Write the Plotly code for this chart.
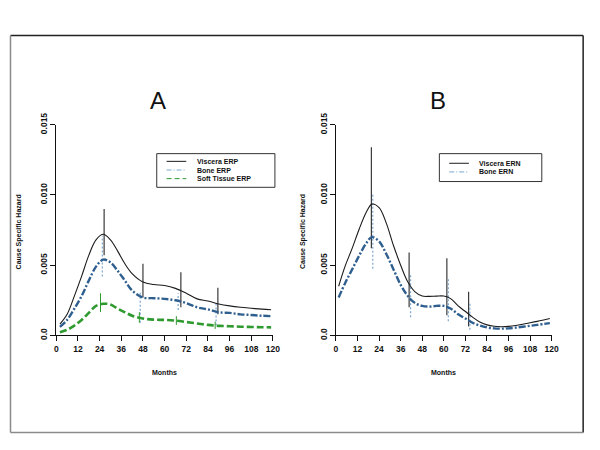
import plotly.graph_objects as go

# ---------------- data ----------------
months_A = [2, 6, 10, 14, 18, 22, 26, 30, 34, 38, 42, 48, 54, 60, 66, 72, 78, 84, 90, 96, 102, 108, 114, 119]
viscera_erp = [0.0008, 0.0015, 0.0028, 0.0042, 0.0057, 0.0068, 0.0072, 0.0068, 0.0060, 0.0051, 0.0044, 0.0038,
               0.00362, 0.00355, 0.00335, 0.0030, 0.0026, 0.00245, 0.00224, 0.0021, 0.0020, 0.00193, 0.00187, 0.00183]
bone_erp = [0.0006, 0.0011, 0.0019, 0.0028, 0.0039, 0.0049, 0.0054, 0.0052, 0.0046, 0.0039, 0.0032, 0.0027,
            0.00265, 0.0026, 0.0025, 0.0023, 0.0020, 0.00185, 0.00165, 0.0016, 0.0015, 0.00145, 0.0014, 0.00137]
soft_erp = [0.00022, 0.0004, 0.0007, 0.0011, 0.0016, 0.0021, 0.00225, 0.0022, 0.0019, 0.00165, 0.0014, 0.0012,
            0.00112, 0.0011, 0.00105, 0.00095, 0.00085, 0.00075, 0.00068, 0.00065, 0.00062, 0.0006, 0.00058, 0.00057]

# confidence bars panel A
viscera_erp_ci_x = [26.5, 48, 69, 89.5]
viscera_erp_ci_lo = [0.0057, 0.0027, 0.0020, 0.0015]
viscera_erp_ci_hi = [0.0090, 0.0051, 0.0045, 0.0034]
bone_erp_ci_x = [25.5, 46.5, 67.5, 88.5]
bone_erp_ci_lo = [0.0042, 0.0009, 0.0018, 0.0007]
bone_erp_ci_hi = [0.0071, 0.0031, 0.0030, 0.0023]
soft_erp_ci_x = [24.5, 46, 66.5, 88]
soft_erp_ci_lo = [0.00166, 0.0009, 0.00075, 0.00046]
soft_erp_ci_hi = [0.0030, 0.00166, 0.00137, 0.00098]

months_B = [1.5, 5, 9, 13, 17, 20, 24, 28, 32, 36, 40, 44, 48, 52, 56, 60, 64, 68, 72, 76, 80, 84, 88, 92, 96,
            100, 106, 112, 119]
viscera_ern = [0.0035, 0.0049, 0.0062, 0.0076, 0.0088, 0.00935, 0.0091, 0.0080, 0.0064, 0.0050, 0.0038, 0.0031,
               0.0028, 0.00278, 0.0028, 0.0028, 0.0026, 0.0021, 0.0017, 0.0013, 0.00095, 0.00075, 0.00065, 0.00062,
               0.00064, 0.0007, 0.00085, 0.0010, 0.0012]
bone_ern = [0.0027, 0.0037, 0.0047, 0.0057, 0.0066, 0.0070, 0.0067, 0.0058, 0.0047, 0.0036, 0.0028, 0.0023,
            0.0021, 0.00205, 0.0021, 0.0021, 0.0019, 0.0015, 0.0012, 0.0009, 0.0007, 0.00057, 0.0005, 0.00048,
            0.0005, 0.00055, 0.00065, 0.00075, 0.00087]

viscera_ern_ci_x = [19.7, 40.7, 61.7, 73.8]
viscera_ern_ci_lo = [0.0062, 0.0020, 0.00144, 0.00064]
viscera_ern_ci_hi = [0.0134, 0.0059, 0.0055, 0.0031]
bone_ern_ci_x = [20.5, 41.5, 62.5, 74.5]
bone_ern_ci_lo = [0.00475, 0.0013, 0.0010, 0.0004]
bone_ern_ci_hi = [0.0101, 0.0044, 0.0040, 0.0024]

x_ticks = [0, 12, 24, 36, 48, 60, 72, 84, 96, 108, 120]
y_ticks = [0.0, 0.005, 0.010, 0.015]
y_tick_labels = ["0.0", "0.005", "0.010", "0.015"]
legend_A = ["Viscera ERP", "Bone ERP", "Soft Tissue ERP"]
legend_B = ["Viscera ERN", "Bone ERN"]

# ---------------- styles ----------------
OFF = 8                      # page body margin of the browser
W, H = 600 - OFF, 450 - OFF  # figure fits inside the window
BLACK = "#1c1c1c"
BLUE = "#2f5f8f"
BLUE_CI = "#7aa6d0"
GREEN = "#2f9a2f"
FONT = "Liberation Sans"
DASHDOT = "7px,2px,2px,2px"
DASH = "7px,3px"


def px_x(v):
    return (v - OFF) / W


def px_y(v):
    return 1 - (v - OFF) / H


def segs(xs, lo, hi):
    X, Y = [], []
    for x, a, b in zip(xs, lo, hi):
        X += [x, x, None]
        Y += [a, b, None]
    return X, Y


fig = go.Figure()

# Panel A
for xs, lo, hi, col, dash, w in [
    (viscera_erp_ci_x, viscera_erp_ci_lo, viscera_erp_ci_hi, "#3a3a3a", "solid", 1.2),
    (bone_erp_ci_x, bone_erp_ci_lo, bone_erp_ci_hi, BLUE_CI, "2px,2px", 1.2),
    (soft_erp_ci_x, soft_erp_ci_lo, soft_erp_ci_hi, GREEN, "solid", 1.0),
]:
    X, Y = segs(xs, lo, hi)
    fig.add_trace(go.Scatter(x=X, y=Y, mode="lines", line=dict(color=col, width=w, dash=dash),
                             xaxis="x", yaxis="y", showlegend=False, hoverinfo="skip"))

fig.add_trace(go.Scatter(x=months_A, y=viscera_erp, mode="lines", name=legend_A[0],
                         line=dict(color=BLACK, width=1.1, shape="spline"), xaxis="x", yaxis="y"))
fig.add_trace(go.Scatter(x=months_A, y=bone_erp, mode="lines", name=legend_A[1],
                         line=dict(color=BLUE, width=2.4, dash=DASHDOT, shape="spline"), xaxis="x", yaxis="y"))
fig.add_trace(go.Scatter(x=months_A, y=soft_erp, mode="lines", name=legend_A[2],
                         line=dict(color=GREEN, width=2.6, dash=DASH, shape="spline"), xaxis="x", yaxis="y"))

# Panel B
for xs, lo, hi, col, dash, w in [
    (viscera_ern_ci_x, viscera_ern_ci_lo, viscera_ern_ci_hi, "#3a3a3a", "solid", 1.2),
    (bone_ern_ci_x, bone_ern_ci_lo, bone_ern_ci_hi, BLUE_CI, "2px,2px", 1.2),
]:
    X, Y = segs(xs, lo, hi)
    fig.add_trace(go.Scatter(x=X, y=Y, mode="lines", line=dict(color=col, width=w, dash=dash),
                             xaxis="x2", yaxis="y2", showlegend=False, hoverinfo="skip"))

fig.add_trace(go.Scatter(x=months_B, y=viscera_ern, mode="lines", name=legend_B[0],
                         line=dict(color=BLACK, width=1.1, shape="spline"), xaxis="x2", yaxis="y2"))
fig.add_trace(go.Scatter(x=months_B, y=bone_ern, mode="lines", name=legend_B[1],
                         line=dict(color=BLUE, width=2.4, dash=DASHDOT, shape="spline"), xaxis="x2", yaxis="y2"))

tickfont = dict(family=FONT, size=8.5, color="#111", weight="bold")
xaxis_common = dict(range=[0, 120], tickmode="array", tickvals=x_ticks, ticktext=[str(t) for t in x_ticks],
                    showgrid=False, zeroline=False, showline=True, linecolor="#111", linewidth=1,
                    ticks="outside", ticklen=5, tickwidth=1, tickcolor="#111", tickfont=tickfont)
yaxis_common = dict(range=[0, 0.015], tickmode="array", tickvals=y_ticks, ticktext=y_tick_labels,
                    showgrid=False, zeroline=False, showline=True, linecolor="#111", linewidth=1,
                    ticks="outside", ticklen=5, tickwidth=1, tickcolor="#111", tickfont=tickfont,
                    tickangle=-90)

y_dom = [px_y(336), px_y(117)]
fig.update_layout(
    width=W, height=H, margin=dict(l=0, r=0, t=0, b=0),
    paper_bgcolor="white", plot_bgcolor="white", showlegend=False,
    xaxis=dict(domain=[px_x(55), px_x(275)], anchor="y", **xaxis_common),
    yaxis=dict(domain=y_dom, anchor="x", **yaxis_common),
    xaxis2=dict(domain=[px_x(339), px_x(558)], anchor="y2", **xaxis_common),
    yaxis2=dict(domain=y_dom, anchor="x2", **yaxis_common),
)

annots = []
shapes = []
lab = dict(family=FONT, size=7, color="#111", weight="bold")


def note(text, x, y, font, **kw):
    d = dict(text=text, x=px_x(x), y=px_y(y), xref="paper", yref="paper", showarrow=False,
             xanchor="center", yanchor="middle", font=font)
    d.update(kw)
    annots.append(d)


# titles
note("A", 158, 92, dict(family=FONT, size=24, color="#111"))
note("B", 443, 92, dict(family=FONT, size=24, color="#111"))
# axis labels
for cx in (165, 448):
    note("Months", cx, 375, lab)
for cx in (17, 305):
    note("Cause Specific Hazard", cx, 228, lab, textangle=-90)


# manual legends
def legend(box, rows, line_x0, line_x1, text_x):
    x0, y0, x1, y1 = box
    shapes.append(dict(type="rect", xref="paper", yref="paper", x0=px_x(x0), x1=px_x(x1), y0=px_y(y1), y1=px_y(y0),
                       line=dict(color="#333", width=1), fillcolor="white", layer="above"))
    for (label, col, dash, w), ry in rows:
        shapes.append(dict(type="line", xref="paper", yref="paper", x0=px_x(line_x0), x1=px_x(line_x1),
                           y0=px_y(ry), y1=px_y(ry), line=dict(color=col, width=w, dash=dash), layer="above"))
        note(label, text_x, ry, lab, xanchor="left")


legend((157, 147, 277, 182),
       [((legend_A[0], BLACK, "solid", 1), 155), ((legend_A[1], BLUE_CI, "5px,2px,1px,2px", 1), 164),
        ((legend_A[2], GREEN, "5px,3px", 1), 173)], 167, 187, 196)
legend((444, 147, 548, 176),
       [((legend_B[0], BLACK, "solid", 1), 157), ((legend_B[1], BLUE_CI, "5px,2px,1px,2px", 1), 166)],
       454, 474, 482)

# outer frame (3D-like border)
fx0, fx1, fy0, fy1 = px_x(8.5), px_x(590), px_y(24), px_y(437)
shapes.append(dict(type="line", xref="paper", yref="paper", x0=fx0, x1=fx1, y0=fy0, y1=fy0,
                   line=dict(color="#222", width=1.5)))
shapes.append(dict(type="line", xref="paper", yref="paper", x0=fx1, x1=fx1, y0=fy0, y1=fy1,
                   line=dict(color="#222", width=1.5)))
shapes.append(dict(type="line", xref="paper", yref="paper", x0=fx0, x1=fx0, y0=fy0, y1=fy1,
                   line=dict(color="#8a8a8a", width=1.5)))
shapes.append(dict(type="line", xref="paper", yref="paper", x0=fx0, x1=fx1, y0=fy1, y1=fy1,
                   line=dict(color="#8a8a8a", width=1.5)))

fig.update_layout(annotations=annots, shapes=shapes)
fig.write_html("out.html")
